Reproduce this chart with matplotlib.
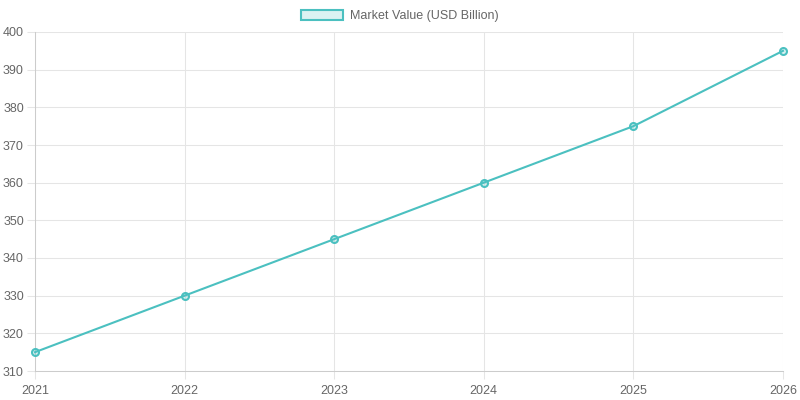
import matplotlib
matplotlib.use("Agg")
import matplotlib.pyplot as plt
from matplotlib.patches import Patch

years = ["2021", "2022", "2023", "2024", "2025", "2026"]
market_value = [315, 330, 345, 360, 375, 395]
series_label = "Market Value (USD Billion)"

plt.rcParams['font.family'] = ['Liberation Sans', 'DejaVu Sans']
line_col = "#4bc0c0"
fill_col = (75/255, 192/255, 192/255, 0.2)
text_col = "#666666"
grid_col = "#e5e5e5"

fig = plt.figure(figsize=(8, 4), dpi=100)
ax = fig.add_axes([35/800, 29/400, 748/800, 339/400])

x = list(range(len(years)))
ax.plot(x, market_value, color=line_col, linewidth=1.5, marker="o", markersize=5,
        markerfacecolor=fill_col, markeredgecolor=line_col, markeredgewidth=1.5,
        clip_on=False, zorder=3)

ax.set_xlim(0, len(years) - 1)
ax.set_ylim(310, 400)
ax.set_xticks(x)
ax.set_xticklabels(years)
ax.set_yticks(range(310, 401, 10))

ax.grid(True, color=grid_col, linewidth=0.75)
ax.set_axisbelow(True)
for s in ["top", "right"]:
    ax.spines[s].set_visible(False)
for s in ["left", "bottom"]:
    ax.spines[s].set_color("#cccccc")
    ax.spines[s].set_linewidth(0.75)
ax.tick_params(colors=grid_col, labelcolor=text_col, labelsize=9, length=6, width=0.75)
ax.tick_params(axis="y", pad=2)
ax.tick_params(axis="x", pad=4)

handle = Patch(facecolor=fill_col, edgecolor=line_col, linewidth=1.5)
fig.legend([handle], [series_label], loc="upper center", bbox_to_anchor=(0.5, 1.0),
           frameon=False, fontsize=9, labelcolor=text_col, handlelength=3.3,
           handleheight=0.9, handletextpad=0.6, borderaxespad=0.4)

fig.savefig("out.png", dpi=100)
